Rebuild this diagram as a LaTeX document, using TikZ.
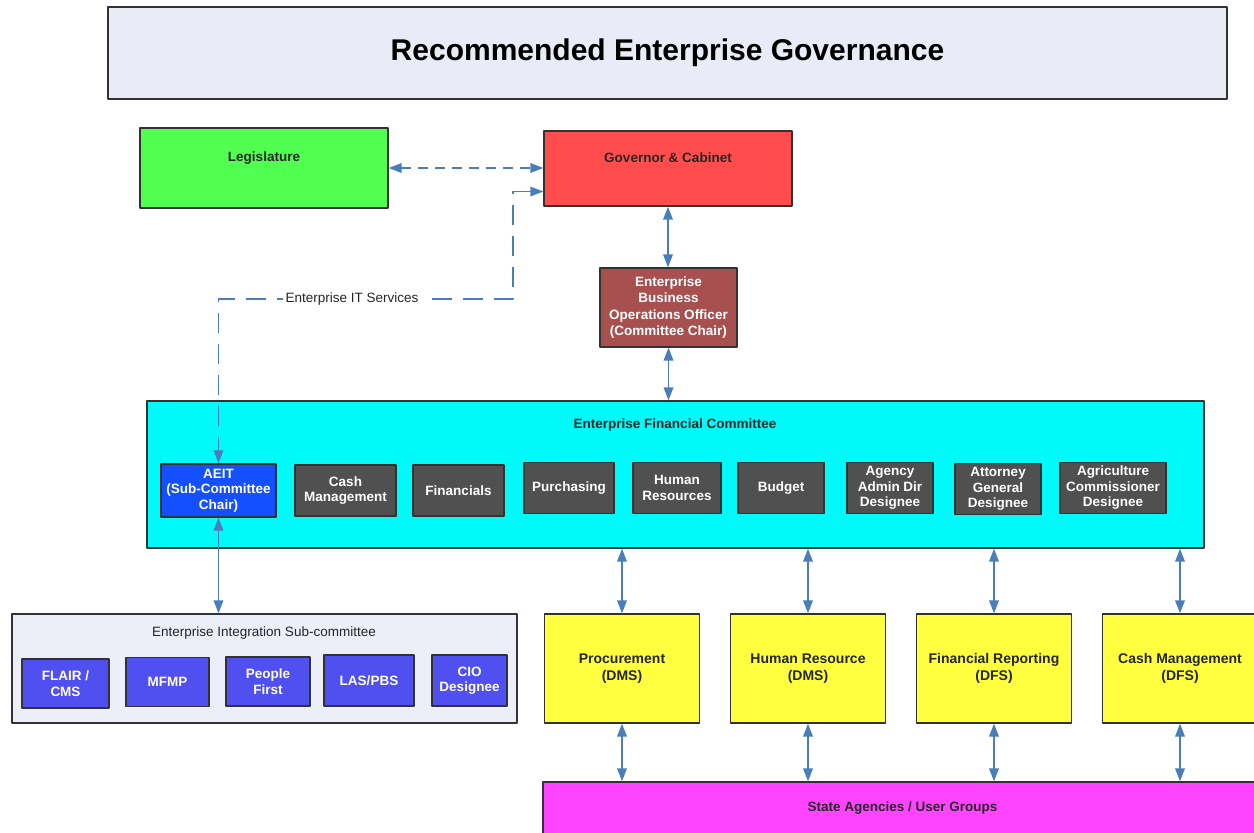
\documentclass[tikz,border=0pt]{standalone}
\usepackage{fontspec}
\setmainfont{Liberation Sans}
\usetikzlibrary{arrows.meta,positioning}

\definecolor{titlebg}{RGB}{233,236,246}
\definecolor{legisgreen}{RGB}{80,255,80}
\definecolor{govred}{RGB}{255,76,76}
\definecolor{eboobrown}{RGB}{168,80,80}
\definecolor{committeecyan}{RGB}{0,250,250}
\definecolor{aeitblue}{RGB}{20,80,255}
\definecolor{membergray}{RGB}{80,80,80}
\definecolor{subbg}{RGB}{236,239,248}
\definecolor{subblue}{RGB}{80,80,240}
\definecolor{unityellow}{RGB}{255,255,64}
\definecolor{agencymagenta}{RGB}{255,68,255}
\definecolor{linkblue}{RGB}{74,126,187}
\definecolor{edgegray}{RGB}{50,50,50}

\begin{document}
\begin{tikzpicture}[
    x=1pt,
    y=-1pt,
    >={Triangle[length=13pt,width=9.5pt]},
    line join=round,
    box/.style={draw=edgegray, line width=1.2pt, inner sep=2pt, align=center,
        text=black!85, font=\bfseries\fontsize{13.5}{15.5}\selectfont},
    member/.style={box, fill=membergray, text=white, minimum height=51pt},
    subsys/.style={box, fill=subblue, text=white, minimum height=49pt},
    unit/.style={box, fill=unityellow, minimum width=155pt, minimum height=109pt,
        font=\bfseries\fontsize{14}{17}\selectfont},
    link/.style={<->, draw=linkblue, line width=1.8pt}
]

\useasboundingbox (0,0) rectangle (1254,833);

% title bar
\node[box, fill=titlebg, text=black, minimum width=1119pt, minimum height=92pt,
    font=\bfseries\fontsize{30}{34}\selectfont] (title) at (667.5,53)
    {Recommended Enterprise Governance};

% top level
\node[box, fill=legisgreen, minimum width=248pt, minimum height=80pt,
    text depth=22pt] (legis) at (264,168) {Legislature};
\node[box, fill=govred, minimum width=248pt, minimum height=75pt,
    text depth=22pt] (gov) at (668,168.5) {Governor \& Cabinet};

\node[box, fill=eboobrown, text=white, minimum width=137pt, minimum height=79pt,
    font=\bfseries\fontsize{13.5}{16.5}\selectfont] (eboo) at (668.5,307.5)
    {Enterprise\\Business\\Operations Officer\\(Committee Chair)};

% Enterprise Financial Committee
\node[box, fill=committeecyan, minimum width=1057pt, minimum height=147pt]
    (efc) at (675.5,474.5) {};
\node[text=black!85, font=\bfseries\fontsize{13.5}{15}\selectfont]
    (efctitle) at (675,425) {Enterprise Financial Committee};

\node[box, fill=aeitblue, text=white, minimum width=115pt, minimum height=53pt]
    (aeit) at (218.5,490.5) {AEIT\\(Sub-Committee\\Chair)};
\node[member, minimum width=101pt] (cashm) at (345.5,490.5) {Cash\\Management};
\node[member, minimum width=91pt] (fin) at (458.5,490.5) {Financials};
\node[member, minimum width=90pt] (purch) at (569,488) {Purchasing};
\node[member, minimum width=88pt] (hr) at (677,488) {Human\\Resources};
\node[member, minimum width=86pt] (budget) at (781,488) {Budget};
\node[member, minimum width=86pt] (agency) at (890,488) {Agency\\Admin Dir\\Designee};
\node[member, minimum width=86pt] (attorney) at (998,489) {Attorney\\General\\Designee};
\node[member, minimum width=106pt] (agri) at (1113,488)
    {Agriculture\\Commissioner\\Designee};

% Enterprise Integration Sub-committee
\node[box, fill=subbg, minimum width=505pt, minimum height=109pt]
    (eis) at (264.5,668.5) {};
\node[text=black!85, font=\fontsize{13.5}{15}\selectfont]
    (eistitle) at (264,633) {Enterprise Integration Sub-committee};

\node[subsys, minimum width=87pt] (flair) at (65.5,683.5) {FLAIR /\\CMS};
\node[subsys, minimum width=83pt] (mfmp) at (167.5,682) {MFMP};
\node[subsys, minimum width=84pt] (people) at (268,681.5) {People\\First};
\node[subsys, minimum width=90pt, minimum height=51pt] (laspbs) at (369,680.5) {LAS/PBS};
\node[subsys, minimum width=75pt, minimum height=51pt] (cio) at (469.5,680.5) {CIO\\Designee};

% business units
\node[unit] (proc) at (622,668.5) {Procurement\\(DMS)};
\node[unit] (hres) at (808,668.5) {Human Resource\\(DMS)};
\node[unit] (finrep) at (994,668.5) {Financial Reporting\\(DFS)};
\node[unit] (cashdfs) at (1180,668.5) {Cash Management\\(DFS)};

\node[box, fill=agencymagenta, minimum width=719pt, minimum height=52pt]
    (agencies) at (902.5,808) {State Agencies / User Groups};

% connectors
\draw[link, dash pattern=on 10pt off 7pt]
    (legis.east) -- (legis.east -| gov.west);

\coordinate (itcorner) at (513,299);
\draw[link, line width=1.4pt, dash pattern=on 20pt off 11pt]
    ([yshift=-23pt]gov.west) -| (itcorner) -| (aeit.north);
\node[fill=white, inner sep=3pt, text=black!85,
    font=\fontsize{13.5}{15}\selectfont] (itsvc) at (352,299)
    {Enterprise IT Services};

\draw[link] (gov.south) -- (gov.south |- eboo.north);
\draw[link] (eboo.south) -- (eboo.south |- efc.north);
\draw[link] (aeit.south) -- (aeit.south |- eis.north);

\draw[link] (proc.north |- efc.south) -- (proc.north);
\draw[link] (hres.north |- efc.south) -- (hres.north);
\draw[link] (finrep.north |- efc.south) -- (finrep.north);
\draw[link] (cashdfs.north |- efc.south) -- (cashdfs.north);

\draw[link] (proc.south) -- (proc.south |- agencies.north);
\draw[link] (hres.south) -- (hres.south |- agencies.north);
\draw[link] (finrep.south) -- (finrep.south |- agencies.north);
\draw[link] (cashdfs.south) -- (cashdfs.south |- agencies.north);

\end{tikzpicture}
\end{document}
